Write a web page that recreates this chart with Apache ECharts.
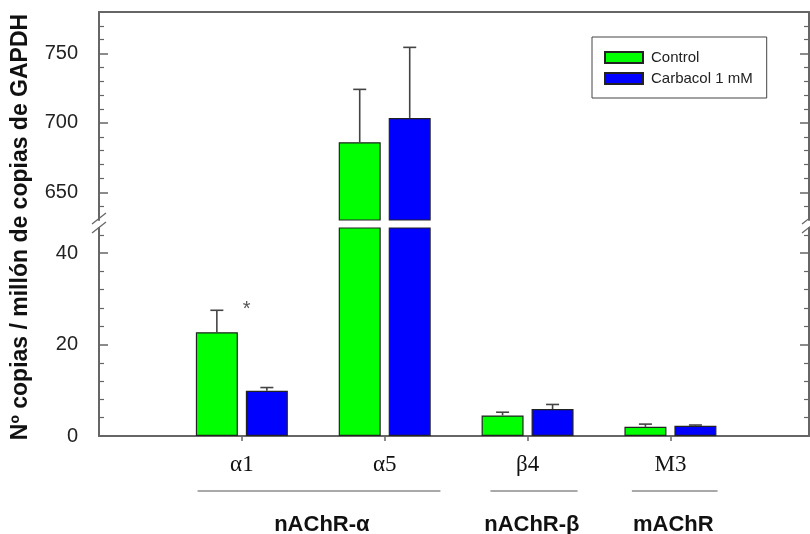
<!DOCTYPE html>
<html>
<head>
<meta charset="utf-8">
<script src="https://cdn.jsdelivr.net/npm/echarts@6/dist/echarts.min.js"></script>
<style>
html, body { margin: 0; padding: 0; background: #fff; }
#main { width: 810px; height: 534px; }
</style>
</head>
<body>
<div id="main"></div>
<script>
// data
var categories = ['α1', 'α5', 'β4', 'M3'];
var control = [22.7, 686.1, 4.5, 2.0];
var controlErr = [27.5, 724.2, 5.2, 2.6];
var carbacol = [9.9, 703.6, 5.9, 2.25];
var carbacolErr = [10.6, 754.5, 6.9, 2.4];
var seriesNames = ['Control', 'Carbacol 1 mM'];
var groupNames = ['nAChR-α', 'nAChR-β', 'mAChR'];
// [start, end, label centre] on the x scale
var groupSpans = [[0.69, 2.39, 1.56], [2.74, 3.35, 3.03], [3.73, 4.33, 4.02]];
var asterisk = [1.033, 27.7];
var upperMajor = [650, 700, 750];
var upperMinor = [640, 660, 670, 680, 690, 710, 720, 730, 740, 760, 770];
var lowerMajor = [0, 20, 40];
var lowerMinor = [4, 8, 12, 16, 24, 28, 32, 36, 44];

var UPPER_MIN = 630, UPPER_MAX = 780;
var LOWER_MIN = 0, LOWER_MAX = 45.5;
var X_MIN = 0, X_MAX = 4.97;
var BAR_W = 42, PAIR_OFF = 25;
var axisColor = '#666';
var sans = '"Liberation Sans", Arial, sans-serif';
var serif = '"Liberation Serif", "Times New Roman", serif';

var chart = echarts.init(document.getElementById('main'));

function yAxes(grid, min, max, major, minor) {
    var common = { type: 'value', gridIndex: grid, min: min, max: max, splitLine: { show: false } };
    var line = { show: true, onZero: false, lineStyle: { color: axisColor, width: 2 } };
    var noLine = { show: false, onZero: false };
    return [
        Object.assign({}, common, {
            position: 'left', axisLine: line,
            axisTick: { show: true, inside: true, length: 9, customValues: major, lineStyle: { color: axisColor, width: 1.5 } },
            axisLabel: { customValues: major, margin: 21, fontSize: 20, fontFamily: sans, color: '#222' }
        }),
        Object.assign({}, common, {
            position: 'left', axisLine: noLine,
            axisTick: { show: true, inside: true, length: 5, customValues: minor, lineStyle: { color: axisColor, width: 1.2 } },
            axisLabel: { show: false }
        }),
        Object.assign({}, common, {
            position: 'right', axisLine: line,
            axisTick: { show: true, inside: true, length: 9, customValues: major, lineStyle: { color: axisColor, width: 1.5 } },
            axisLabel: { show: false }
        }),
        Object.assign({}, common, {
            position: 'right', axisLine: noLine,
            axisTick: { show: true, inside: true, length: 5, customValues: minor, lineStyle: { color: axisColor, width: 1.2 } },
            axisLabel: { show: false }
        })
    ];
}

function barData(vals, lo) {
    return vals.map(function (v, i) { return [i + 1, v >= lo ? v : '-']; });
}

function errData(upper) {
    var out = [];
    [control, carbacol].forEach(function (vals, s) {
        var errs = s === 0 ? controlErr : carbacolErr;
        vals.forEach(function (v, i) {
            if ((v >= UPPER_MIN) === upper) out.push([i + 1, v, errs[i], s === 0 ? -1 : 1]);
        });
    });
    return out;
}

function renderErr(params, api) {
    var base = api.coord([api.value(0), api.value(1)]);
    var top = api.coord([api.value(0), api.value(2)]);
    var x = base[0] + api.value(3) * PAIR_OFF;
    var st = { stroke: '#444', lineWidth: 1.6 };
    return {
        type: 'group',
        children: [
            { type: 'line', shape: { x1: x, y1: base[1], x2: x, y2: top[1] }, style: st },
            { type: 'line', shape: { x1: x - 6.5, y1: top[1], x2: x + 6.5, y2: top[1] }, style: st }
        ]
    };
}

function renderGroup(params, api) {
    var a = api.coord([api.value(0), 0]);
    var b = api.coord([api.value(1), 0]);
    var c = api.coord([api.value(2), 0]);
    return {
        type: 'group',
        children: [
            { type: 'line', shape: { x1: a[0], y1: a[1] + 55, x2: b[0], y2: b[1] + 55 }, style: { stroke: '#555', lineWidth: 1.2 } },
            { type: 'text', x: c[0], y: c[1] + 89, style: {
                text: groupNames[params.dataIndex], fontSize: 22, fontWeight: 'bold', fontFamily: sans,
                fill: '#111', align: 'center', verticalAlign: 'middle' } }
        ]
    };
}

function barSeries(name, vals, color, grid, lo) {
    return {
        name: name, type: 'bar',
        xAxisIndex: grid, yAxisIndex: grid * 4,
        data: barData(vals, lo),
        barWidth: BAR_W, barGap: '19%',
        itemStyle: { color: color, borderColor: '#222', borderWidth: 1.2 },
        emphasis: { disabled: true }
    };
}

var option = {
    animation: false,
    backgroundColor: '#fff',
    grid: [
        { left: 99, right: 1, top: 12, height: 208, outerBoundsMode: 'none' },
        { left: 99, right: 1, top: 228, bottom: 98, outerBoundsMode: 'none' }
    ],
    xAxis: [
        { type: 'value', gridIndex: 0, min: X_MIN, max: X_MAX, position: 'top',
          axisLine: { show: true, onZero: false, lineStyle: { color: axisColor, width: 2 } },
          axisTick: { show: false }, axisLabel: { show: false }, splitLine: { show: false } },
        { type: 'value', gridIndex: 1, min: X_MIN, max: X_MAX, position: 'bottom',
          axisLine: { show: true, onZero: false, lineStyle: { color: axisColor, width: 2 } },
          axisTick: { show: true, length: 5, customValues: [1, 2, 3, 4], lineStyle: { color: axisColor, width: 1.5 } },
          axisLabel: { customValues: [1, 2, 3, 4], margin: 17, fontSize: 23, fontFamily: serif, color: '#111',
                       formatter: function (v) { return categories[Math.round(v) - 1]; } },
          splitLine: { show: false } }
    ],
    yAxis: yAxes(0, UPPER_MIN, UPPER_MAX, upperMajor, upperMinor)
        .concat(yAxes(1, LOWER_MIN, LOWER_MAX, lowerMajor, lowerMinor)),
    legend: {
        orient: 'vertical', left: 592, top: 37,
        data: seriesNames,
        icon: 'rect', itemWidth: 38, itemHeight: 11, itemGap: 6,
        padding: [13, 14, 12, 12],
        borderColor: '#444', borderWidth: 1,
        selectedMode: false,
        textStyle: { fontSize: 15, fontFamily: sans, color: '#222', padding: [0, 0, 0, 3] }
    },
    graphic: [
        { type: 'text', x: 21, y: 227, rotation: Math.PI / 2,
          style: { text: 'Nº copias / millón de copias de GAPDH', fontSize: 23, fontWeight: 'bold',
                   fontFamily: sans, fill: '#111', align: 'center', verticalAlign: 'middle' } },
        { type: 'line', shape: { x1: 92, y1: 224, x2: 106, y2: 213 }, style: { stroke: '#666', lineWidth: 1.3 } },
        { type: 'line', shape: { x1: 92, y1: 233, x2: 106, y2: 222 }, style: { stroke: '#666', lineWidth: 1.3 } },
        { type: 'line', shape: { x1: 802, y1: 224, x2: 816, y2: 213 }, style: { stroke: '#666', lineWidth: 1.3 } },
        { type: 'line', shape: { x1: 802, y1: 233, x2: 816, y2: 222 }, style: { stroke: '#666', lineWidth: 1.3 } }
    ],
    series: [
        barSeries(seriesNames[0], control, '#00ff00', 0, UPPER_MIN),
        barSeries(seriesNames[1], carbacol, '#0000ff', 0, UPPER_MIN),
        barSeries(seriesNames[0], control, '#00ff00', 1, -1),
        barSeries(seriesNames[1], carbacol, '#0000ff', 1, -1),
        { type: 'custom', xAxisIndex: 0, yAxisIndex: 0, data: errData(true),
          encode: { x: 0, y: [1, 2] }, renderItem: renderErr, z: 5, silent: true },
        { type: 'custom', xAxisIndex: 1, yAxisIndex: 4, data: errData(false),
          encode: { x: 0, y: [1, 2] }, renderItem: renderErr, z: 5, silent: true },
        { type: 'custom', xAxisIndex: 1, yAxisIndex: 4,
          data: groupSpans.map(function (g) { return g.concat([0]); }),
          encode: { x: [0, 1, 2], y: 3 }, renderItem: renderGroup, silent: true },
        { type: 'custom', xAxisIndex: 1, yAxisIndex: 4, data: [asterisk],
          encode: { x: 0, y: 1 }, silent: true,
          renderItem: function (params, api) {
              var p = api.coord([api.value(0), api.value(1)]);
              return { type: 'text', x: p[0], y: p[1], style: { text: '*', fontSize: 20, fontFamily: sans,
                       fill: '#555', align: 'center', verticalAlign: 'middle' } };
          } }
    ]
};

chart.setOption(option);
</script>
</body>
</html>
